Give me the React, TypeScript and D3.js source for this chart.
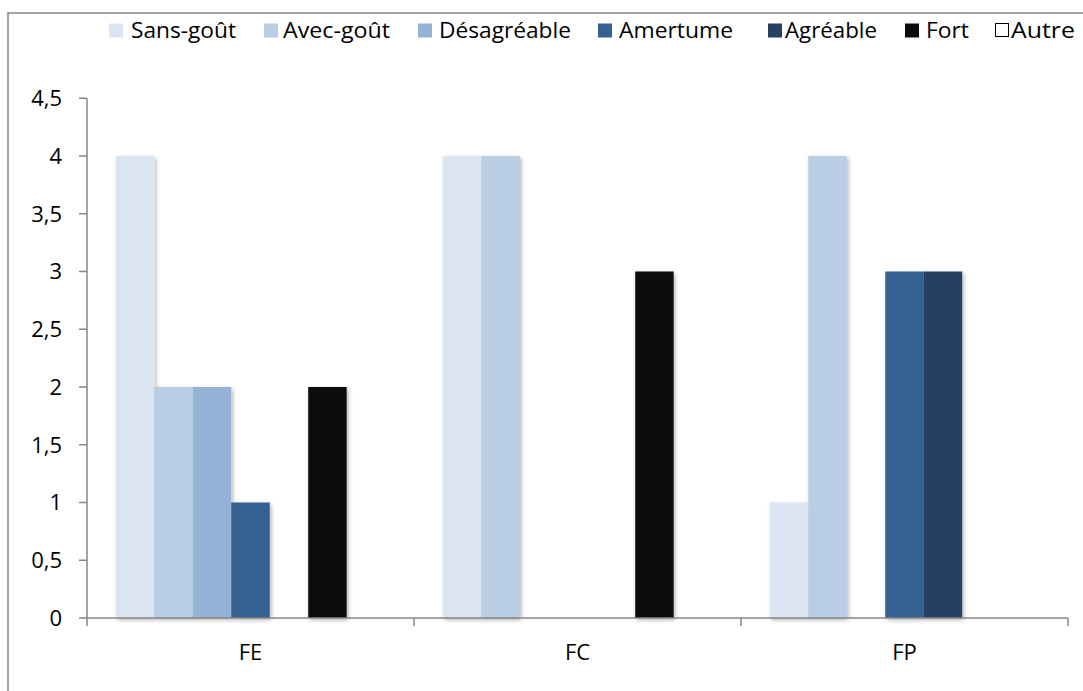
import React from "react";
import * as d3 from "d3";

// Categories, series and values
const categories: string[] = ["FE", "FC", "FP"];
const seriesNames: string[] = ["Sans-goût", "Avec-goût", "Désagréable", "Amertume", "Agréable", "Fort", "Autre"];
const seriesColors: string[] = ["#DBE5F1", "#B9CDE5", "#95B3D7", "#366092", "#254061", "#0D0D0D", "#FFFFFF"];
const sansGout: number[] = [4, 4, 1];
const avecGout: number[] = [2, 4, 4];
const desagreable: number[] = [2, 0, 0];
const amertume: number[] = [1, 0, 3];
const agreable: number[] = [0, 0, 3];
const fort: number[] = [2, 3, 0];
const autre: number[] = [0, 0, 0];
const yTicks: number[] = [0, 0.5, 1, 1.5, 2, 2.5, 3, 3.5, 4, 4.5];

const seriesValues: number[][] = [sansGout, avecGout, desagreable, amertume, agreable, fort, autre];

const W = 1083;
const H = 691;
const FONT = "'Open Sans', 'Noto Sans', sans-serif";
const AXIS = "#868686";

// Legend item x positions (square left, label start, label end)
const legendLayout: [number, number, number][] = [
  [109, 131, 236],
  [264, 283, 390],
  [418, 439, 571],
  [598, 619, 733],
  [768, 785, 877],
  [905, 926, 969],
  [995, 1011, 1075],
];

export default function App() {
  const plotLeft = 87;
  const plotRight = 1068;
  const y = d3.scaleLinear().domain([0, 4.5]).range([618, 98.25]);
  const x0 = d3.scaleBand<string>().domain(categories).range([plotLeft, plotRight]).paddingInner(0).paddingOuter(0);
  const x1 = d3
    .scaleBand<string>()
    .domain(seriesNames)
    .range([0, x0.bandwidth()])
    .paddingInner(0)
    .paddingOuter(0.75);
  const fmt = (v: number) => d3.format("")(v).replace(".", ",");
  const boundaries = [...categories.map((c) => x0(c) as number), plotRight];

  return (
    <svg
      width={W}
      height={H}
      style={{ position: "absolute", left: 0, top: 0, background: "#fff" }}
      fontFamily={FONT}
    >
      <defs>
        <filter id="barShadow" x="-30%" y="-10%" width="160%" height="120%">
          <feDropShadow dx="1.5" dy="2" stdDeviation="2" floodColor="#000" floodOpacity="0.3" />
        </filter>
      </defs>
      <rect x={0} y={0} width={W} height={H} fill="#fff" />
      {/* chart frame */}
      <rect x={8} y={13} width={1200} height={800} fill="none" stroke={AXIS} strokeWidth={1.5} />

      {/* legend */}
      {seriesNames.map((s, i) => (
        <g key={s}>
          <rect
            x={legendLayout[i][0] + (s === "Autre" ? 0.5 : 0)}
            y={23.5}
            width={s === "Autre" ? 13 : 14}
            height={s === "Autre" ? 13 : 14}
            fill={seriesColors[i]}
            stroke={s === "Autre" ? "#000" : "none"}
            strokeWidth={1}
          />
          <text
            x={legendLayout[i][1]}
            y={38}
            fontSize={22}
            fill="#000"
            textLength={legendLayout[i][2] - legendLayout[i][1]}
            lengthAdjust="spacingAndGlyphs"
          >
            {s}
          </text>
        </g>
      ))}

      {/* bars */}
      <g filter="url(#barShadow)">
        {categories.map((c, ci) =>
          seriesNames.map((s, si) => {
            const v = seriesValues[si][ci];
            if (!v) return null;
            return (
              <rect
                key={c + s}
                x={(x0(c) as number) + (x1(s) as number)}
                y={y(v)}
                width={x1.bandwidth()}
                height={y(0) - y(v)}
                fill={seriesColors[si]}
              />
            );
          })
        )}
      </g>

      {/* y axis */}
      <line x1={plotLeft} x2={plotLeft} y1={y(4.5)} y2={y(0)} stroke={AXIS} strokeWidth={1.5} />
      {yTicks.map((t) => (
        <g key={t}>
          <line x1={plotLeft - 8} x2={plotLeft} y1={y(t)} y2={y(t)} stroke={AXIS} strokeWidth={1.5} />
          <text x={62} y={y(t)} dy="0.36em" textAnchor="end" fontSize={22} fill="#000">
            {fmt(t)}
          </text>
        </g>
      ))}

      {/* x axis */}
      <line x1={plotLeft} x2={plotRight} y1={y(0)} y2={y(0)} stroke={AXIS} strokeWidth={1.5} />
      {boundaries.map((b, i) => (
        <line key={i} x1={b} x2={b} y1={y(0)} y2={y(0) + 8} stroke={AXIS} strokeWidth={1.5} />
      ))}
      {categories.map((c) => (
        <text
          key={c}
          x={(x0(c) as number) + x0.bandwidth() / 2}
          y={652}
          dy="0.36em"
          textAnchor="middle"
          fontSize={22}
          fill="#000"
        >
          {c}
        </text>
      ))}
    </svg>
  );
}
